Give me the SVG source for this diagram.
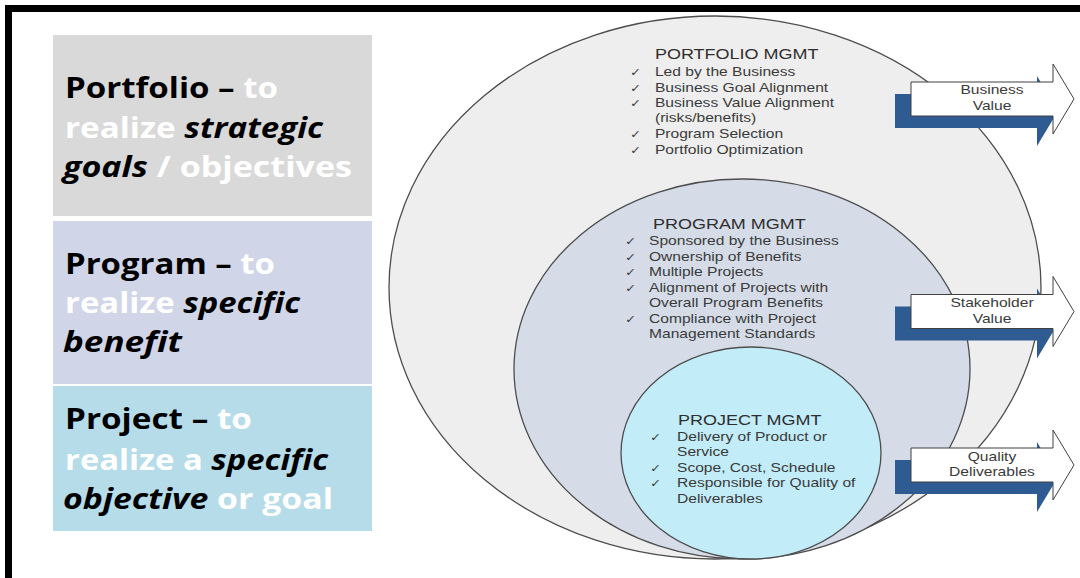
<svg xmlns="http://www.w3.org/2000/svg" xmlns:xlink="http://www.w3.org/1999/xlink" width="1080" height="578" viewBox="0 0 1080 578">
  <style>
    .lbl { font-family: "Open Sans", Lato, "Liberation Sans", sans-serif; font-weight: 700; font-size: 28px; }
    .k { fill: #000000; }
    .ki { fill: #000000; font-style: italic; }
    .w { fill: #ffffff; }
    .ring { stroke: #4d4d4d; stroke-width: 1.3; }
    .hd { font-family: "Liberation Sans", Arial, sans-serif; font-size: 15px; fill: #2e2e2e; }
    .it { font-family: "Liberation Sans", Arial, sans-serif; font-size: 13px; fill: #3a3a3a; }
    .ck { font-family: "DejaVu Sans", sans-serif; font-size: 11px; fill: #3a3a3a; }
    .at { font-family: "Liberation Sans", Arial, sans-serif; font-size: 13px; fill: #3a3a3a; text-anchor: middle; }
  </style>
  <defs>
    <path id="arrowShape" d="M0,-17 H142 V-35 L163,0 L142,35 V17 H0 Z"/>
  </defs>

  <rect x="0" y="0" width="1080" height="578" fill="#ffffff"/>

  <!-- frame -->
  <g id="frame" fill="#000000">
    <rect x="5" y="5" width="1075" height="7"/>
    <rect x="5" y="5" width="7" height="573"/>
  </g>

  <!-- left panels -->
  <g id="portfolio-panel">
    <rect x="53" y="35" width="319" height="181" fill="#d9d9d9"/>
    <text class="lbl" x="65" y="98" textLength="213" lengthAdjust="spacingAndGlyphs"><tspan class="k">Portfolio – </tspan><tspan class="w">to</tspan></text>
    <text class="lbl" x="65" y="138" textLength="258" lengthAdjust="spacingAndGlyphs"><tspan class="w">realize </tspan><tspan class="ki">strategic</tspan></text>
    <text class="lbl" x="63" y="177" textLength="289" lengthAdjust="spacingAndGlyphs"><tspan class="ki">goals</tspan><tspan class="w"> / objectives</tspan></text>
  </g>
  <g id="program-panel">
    <rect x="53" y="221" width="319" height="163" fill="#d0d6e7"/>
    <text class="lbl" x="65" y="274" textLength="210" lengthAdjust="spacingAndGlyphs"><tspan class="k">Program – </tspan><tspan class="w">to</tspan></text>
    <text class="lbl" x="65" y="313" textLength="235" lengthAdjust="spacingAndGlyphs"><tspan class="w">realize </tspan><tspan class="ki">specific</tspan></text>
    <text class="lbl" x="63" y="352" textLength="119" lengthAdjust="spacingAndGlyphs"><tspan class="ki">benefit</tspan></text>
  </g>
  <g id="project-panel">
    <rect x="53" y="386" width="319" height="145" fill="#b5dce8"/>
    <text class="lbl" x="65" y="429" textLength="187" lengthAdjust="spacingAndGlyphs"><tspan class="k">Project – </tspan><tspan class="w">to</tspan></text>
    <text class="lbl" x="65" y="470" textLength="263" lengthAdjust="spacingAndGlyphs"><tspan class="w">realize a </tspan><tspan class="ki">specific</tspan></text>
    <text class="lbl" x="63" y="509" textLength="270" lengthAdjust="spacingAndGlyphs"><tspan class="ki">objective</tspan><tspan class="w"> or goal</tspan></text>
  </g>

  <!-- nested circles -->
  <g id="portfolio-mgmt">
    <ellipse class="ring" cx="715" cy="287.5" rx="326" ry="271.5" fill="#eeeeee"/>
    <g transform="translate(630,0) scale(1.2,1)">
      <text class="hd" x="20.8" y="59">PORTFOLIO MGMT</text>
      <text class="ck" x="0" y="76">✓</text>
      <text class="it" x="20.8" y="76">Led by the Business</text>
      <text class="ck" x="0" y="92">✓</text>
      <text class="it" x="20.8" y="92">Business Goal Alignment</text>
      <text class="ck" x="0" y="107">✓</text>
      <text class="it" x="20.8" y="107">Business Value Alignment</text>
      <text class="it" x="20.8" y="122">(risks/benefits)</text>
      <text class="ck" x="0" y="138">✓</text>
      <text class="it" x="20.8" y="138">Program Selection</text>
      <text class="ck" x="0" y="154">✓</text>
      <text class="it" x="20.8" y="154">Portfolio Optimization</text>
    </g>
  </g>
  <g id="program-mgmt">
    <ellipse class="ring" cx="742" cy="369" rx="228" ry="190" fill="#d5dce8"/>
    <g transform="translate(625,0) scale(1.2,1)">
      <text class="hd" x="23.3" y="229">PROGRAM MGMT</text>
      <text class="ck" x="0" y="245">✓</text>
      <text class="it" x="20" y="245">Sponsored by the Business</text>
      <text class="ck" x="0" y="261">✓</text>
      <text class="it" x="20" y="261">Ownership of Benefits</text>
      <text class="ck" x="0" y="276">✓</text>
      <text class="it" x="20" y="276">Multiple Projects</text>
      <text class="ck" x="0" y="292">✓</text>
      <text class="it" x="20" y="292">Alignment of Projects with</text>
      <text class="it" x="20" y="307">Overall Program Benefits</text>
      <text class="ck" x="0" y="323">✓</text>
      <text class="it" x="20" y="323">Compliance with Project</text>
      <text class="it" x="20" y="338">Management Standards</text>
    </g>
  </g>
  <g id="project-mgmt">
    <ellipse class="ring" cx="751" cy="453" rx="130" ry="106" fill="#c2ecf8"/>
    <g transform="translate(650,0) scale(1.2,1)">
      <text class="hd" x="23.3" y="425">PROJECT MGMT</text>
      <text class="ck" x="0" y="441">✓</text>
      <text class="it" x="22.5" y="441">Delivery of Product or</text>
      <text class="it" x="22.5" y="456">Service</text>
      <text class="ck" x="0" y="472">✓</text>
      <text class="it" x="22.5" y="472">Scope, Cost, Schedule</text>
      <text class="ck" x="0" y="487">✓</text>
      <text class="it" x="22.5" y="487">Responsible for Quality of</text>
      <text class="it" x="22.5" y="503">Deliverables</text>
    </g>
  </g>

  <!-- value arrows -->
  <g id="connectors">
    <g id="arrow-business-value">
      <use xlink:href="#arrowShape" href="#arrowShape" transform="translate(895,111)" fill="#2f5b93"/>
      <use xlink:href="#arrowShape" href="#arrowShape" transform="translate(911,99)" fill="#ffffff" stroke="#404040" stroke-width="1"/>
      <g transform="translate(992,0) scale(1.2,1)">
        <text class="at" x="0" y="94">Business</text>
        <text class="at" x="0" y="110">Value</text>
      </g>
    </g>
    <g id="arrow-stakeholder-value">
      <use xlink:href="#arrowShape" href="#arrowShape" transform="translate(895,323.5)" fill="#2f5b93"/>
      <use xlink:href="#arrowShape" href="#arrowShape" transform="translate(911,311.5)" fill="#ffffff" stroke="#404040" stroke-width="1"/>
      <g transform="translate(992,0) scale(1.2,1)">
        <text class="at" x="0" y="307">Stakeholder</text>
        <text class="at" x="0" y="323">Value</text>
      </g>
    </g>
    <g id="arrow-quality-deliverables">
      <use xlink:href="#arrowShape" href="#arrowShape" transform="translate(895,477)" fill="#2f5b93"/>
      <use xlink:href="#arrowShape" href="#arrowShape" transform="translate(911,465)" fill="#ffffff" stroke="#404040" stroke-width="1"/>
      <g transform="translate(992,0) scale(1.2,1)">
        <text class="at" x="0" y="461">Quality</text>
        <text class="at" x="0" y="476">Deliverables</text>
      </g>
    </g>
  </g>
</svg>
